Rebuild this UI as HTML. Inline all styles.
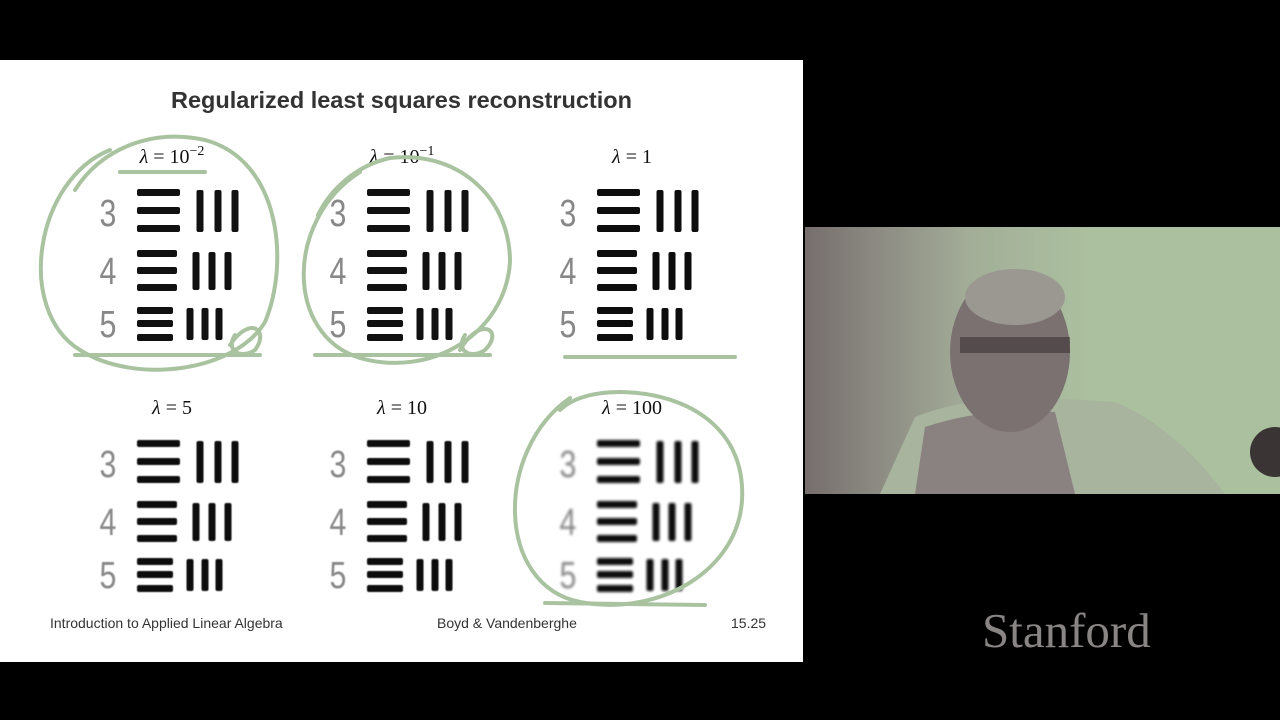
<!DOCTYPE html>
<html><head><meta charset="utf-8"><style>
body{margin:0;width:1280px;height:720px;background:#000;overflow:hidden;position:relative;font-family:"Liberation Sans",sans-serif}
#slide{position:absolute;left:0;top:60px;width:803px;height:602px;background:#fff}
#cam{position:absolute;left:805px;top:227px;width:475px;height:267px;background:linear-gradient(90deg,#766e6d 0%,#8c8a82 15%,#a3ae98 35%,#abc09f 60%,#abc09f 100%)}
.t{position:absolute;white-space:nowrap}
</style></head><body>
<div id="slide"></div>
<div class="t" style="left:0;width:803px;text-align:center;top:87px;font-size:23.5px;font-weight:bold;color:#333">Regularized least squares reconstruction</div>
<svg id="panels" width="803" height="720" style="position:absolute;left:0;top:0"></svg>
<div class="t" style="left:50px;top:615px;font-size:14px;color:#333">Introduction to Applied Linear Algebra</div>
<div class="t" style="left:437px;top:615px;font-size:14px;color:#333">Boyd &amp; Vandenberghe</div>
<div class="t" style="left:731px;top:615px;font-size:14px;color:#333">15.25</div>
<div id="cam">
<svg width="475" height="267" style="position:absolute;left:0;top:0">
<path d="M75 267 L110 190 Q160 170 230 170 L310 175 Q370 200 420 267 Z" fill="#a8b49e"/>
<path d="M110 267 L120 200 Q180 180 250 185 L270 267 Z" fill="#8a8280"/>
<ellipse cx="205" cy="125" rx="60" ry="80" fill="#7a7170"/>
<ellipse cx="210" cy="70" rx="50" ry="28" fill="#9a9890"/>
<rect x="155" y="110" width="110" height="16" fill="#3a3434" opacity=".6"/>
<circle cx="470" cy="225" r="25" fill="#3a3434"/>
</svg></div>
<div class="t" style="left:982px;top:602px;font-family:'Liberation Serif',serif;font-size:49px;color:#8a8585">Stanford</div>
<script>
const labels=["λ = 10","λ = 10","λ = 1","λ = 5","λ = 10","λ = 100"];
const sups=["−2","−1","","","",""];
const blur=[0,0,0.3,0.5,0.6,1.2];
const svg=document.getElementById('panels');
const NS="http://www.w3.org/2000/svg";
function mk(tag,attrs,parent){const e=document.createElementNS(NS,tag);for(const k in attrs)e.setAttribute(k,attrs[k]);(parent||svg).appendChild(e);return e;}
const defs=mk('defs',{});
blur.forEach((b,i)=>{const f=mk('filter',{id:'b'+i},defs);mk('feGaussianBlur',{stdDeviation:b},f);});
const rows=[{y:212,hx:137,hw:43,hy:[192,210,228],vx:[200,218,235],vy:190,vh:42},
{y:270,hx:137,hw:40,hy:[253,270,287],vx:[196,212,228],vy:252,vh:38},
{y:323,hx:137,hw:36,hy:[310,323,337],vx:[190,205,219],vy:308,vh:32}];
const digits=["3","4","5"];
for(let i=0;i<6;i++){
 const dx=(i%3)*230, dy=Math.floor(i/3)*251;
 const g=mk('g',{transform:`translate(${dx},${dy})`});
 
 
 const t=mk('text',{x:172,y:163,'text-anchor':'middle','font-family':'Liberation Serif, serif','font-size':20,fill:'#111'},g);
 const lt=mk('tspan',{'font-style':'italic'},t);lt.textContent=labels[i].slice(0,1);
 const rest=mk('tspan',{},t);rest.textContent=labels[i].slice(1);
 if(sups[i]){const s=mk('tspan',{dy:-8,'font-size':14},t);s.textContent=sups[i];}
 
 
 const ig=mk('g',{filter:`url(#b${i})`},g);
 rows.forEach((r,k)=>{
  const d=mk('text',{x:108,y:r.y+14,'text-anchor':'middle','font-family':'Liberation Sans Narrow, Liberation Sans, sans-serif','font-size':38,fill:'#888',transform:`translate(108 0) scale(0.8 1) translate(-108 0)`},ig);
  d.textContent=digits[k];
  r.hy.forEach(y=>mk('rect',{x:r.hx,y:y-3,width:r.hw,height:7,rx:2,fill:'#111'},ig));
  r.vx.forEach(x=>mk('rect',{x:x-3.5,y:r.vy,width:7,height:r.vh,rx:2,fill:'#111'},ig));
 });
}
const green='#a9c3a0';
const strokes=["M120 172 L205 172","M75 355 L260 355","M315 355 L490 355","M565 357 L735 357","M545 603 L705 605",
"M110 150 C35 180 15 310 80 350 C135 385 235 372 265 322 C290 262 280 160 205 140 C150 128 100 150 75 190",
"M360 172 C285 220 285 335 360 358 C430 378 505 335 510 262 C510 195 455 150 390 158 C355 166 330 190 318 215",
"M230 345 C250 315 270 330 255 350 C240 360 225 350 235 335",
"M460 350 C480 315 505 330 485 350 C470 360 455 350 465 335",
"M570 398 C495 450 495 585 580 602 C660 617 738 570 742 500 C746 430 690 393 620 392 C590 392 570 400 560 410"];
strokes.forEach((d,i)=>{const p=mk('path',{d:d,fill:'none',stroke:green,'stroke-width':4,'stroke-linecap':'round'});
 
 });
</script>
</body></html>
